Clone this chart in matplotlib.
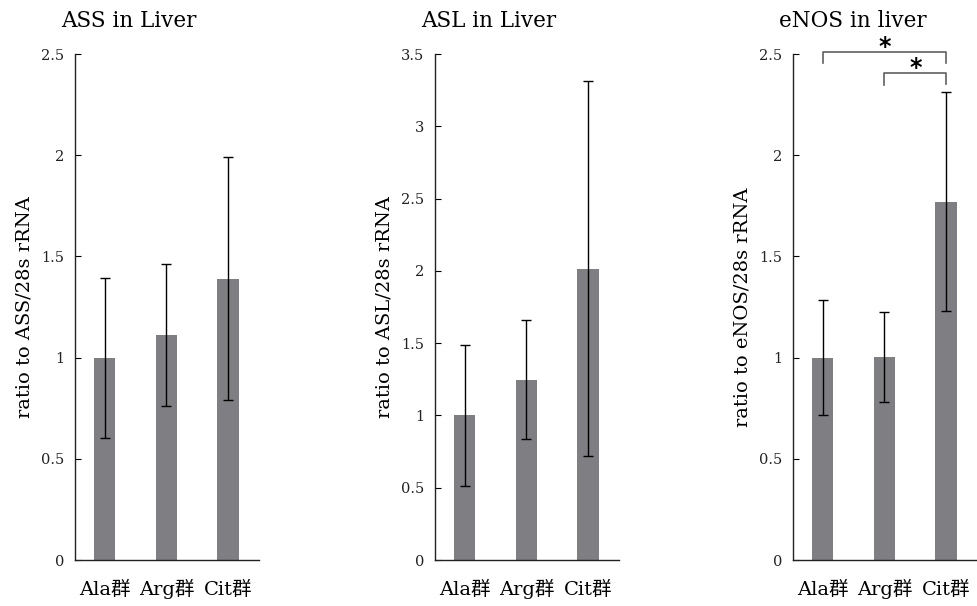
import matplotlib
matplotlib.use("Agg")
import matplotlib.pyplot as plt

plt.rcParams['font.family'] = ['DejaVu Serif', 'Noto Sans CJK JP']

groups = ['Ala群', 'Arg群', 'Cit群']

ass_mean = [1.00, 1.11, 1.39]
ass_sd = [0.395, 0.35, 0.60]

asl_mean = [1.00, 1.247, 2.015]
asl_sd = [0.485, 0.413, 1.295]

enos_mean = [1.00, 1.003, 1.77]
enos_sd = [0.285, 0.22, 0.54]

titles = ['ASS in Liver', 'ASL in Liver', 'eNOS in liver']
ylabels = ['ratio to ASS/28s rRNA', 'ratio to ASL/28s rRNA', 'ratio to eNOS/28s rRNA']
ymaxes = [2.5, 3.5, 2.5]
yticks = [[0, 0.5, 1, 1.5, 2, 2.5],
          [0, 0.5, 1, 1.5, 2, 2.5, 3, 3.5],
          [0, 0.5, 1, 1.5, 2, 2.5]]
yticklabels = [['0', '0.5', '1', '1.5', '2', '2.5'],
               ['0', '0.5', '1', '1.5', '2', '2.5', '3', '3.5'],
               ['0', '0.5', '1', '1.5', '2', '2.5']]

# significance brackets for eNOS: (left group, right group, bracket height, drop ends)
sig_pairs = [(0, 2, 2.51, 2.456, 2.456), (1, 2, 2.406, 2.347, 2.35)]
sig_labels = ['*', '*']

means = [ass_mean, asl_mean, enos_mean]
sds = [ass_sd, asl_sd, enos_sd]

fig = plt.figure(figsize=(9.77, 6.06), dpi=100)
lefts = [75 / 977, 435 / 977, 793 / 977]
W = 184 / 977
B = 1 - 560 / 606
H = (560 - 54) / 606

x = list(range(len(groups)))
for i in range(3):
    ax = fig.add_axes([lefts[i], B, W, H])
    ax.bar(x, means[i], width=0.35, color='#7e7e83', zorder=2)
    ax.errorbar(x, means[i], yerr=sds[i], fmt='none', ecolor='black',
                elinewidth=1.0, capsize=3.3, capthick=1.0, zorder=3)
    ax.set_xlim(-0.48, 2.5)
    ax.set_ylim(0, ymaxes[i])
    ax.set_yticks(yticks[i])
    ax.set_yticklabels(yticklabels[i], fontsize=10.5, color='#222222')
    ax.set_xticks(x)
    ax.set_xticklabels(groups, fontsize=14)
    for lbl in ax.get_xticklabels():
        lbl.set_verticalalignment('baseline')
    ax.tick_params(axis='x', length=0, pad=25)
    ax.tick_params(axis='y', direction='in', length=4, width=0.8, pad=8)
    for s in ['top', 'right']:
        ax.spines[s].set_visible(False)
    for s in ['left', 'bottom']:
        ax.spines[s].set_linewidth(1.0)
        ax.spines[s].set_color('#222222')
    ax.set_title(titles[i], fontsize=15.5, loc='left', x=-0.078, pad=19.5)
    ax.set_ylabel(ylabels[i], fontsize=14, labelpad=5)
    if i == 2:
        for (a, b, h, da, db), lab in zip(sig_pairs, sig_labels):
            ax.plot([a, a, b, b], [da, h, h, db], color='#606060',
                    lw=1.2, clip_on=False, zorder=4)
            ax.text((a + b) / 2, h - 0.008, lab, ha='center', va='baseline',
                    fontsize=17, fontweight='bold', color='black',
                    family='DejaVu Sans', clip_on=False)

fig.savefig('out.png', dpi=100)
